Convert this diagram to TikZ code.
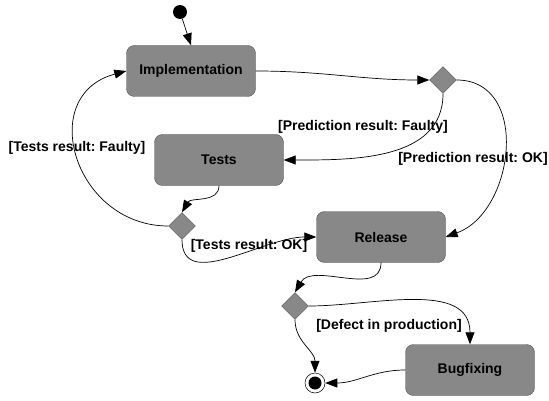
\documentclass[tikz,border=0pt]{standalone}
\usepackage{fontspec}
\setmainfont{Liberation Sans}
\usetikzlibrary{arrows.meta,shapes.geometric}
\definecolor{boxgray}{HTML}{888888}
\definecolor{edgegray}{HTML}{555555}
\frenchspacing
\tikzset{
  /tikz/.cd,
  activity/.style={draw=edgegray,fill=boxgray,rounded corners=8pt,font=\fontsize{14}{16}\selectfont\bfseries,minimum width=129pt,minimum height=51pt}
}

\begin{document}
\begin{tikzpicture}[x=1pt,y=-1pt,
                        choice/.style={diamond,draw=edgegray,fill=boxgray,inner sep=0pt,minimum size=27pt},
                        guard/.style={font=\fontsize{14}{16}\selectfont\bfseries,inner sep=0pt},
                        flow/.style={-{Triangle[length=12pt,width=9pt]},line width=0.7pt}]
      \useasboundingbox (0,0) rectangle (549,401);

      \node[circle,fill=black,inner sep=0pt,minimum size=14pt] (start) at (180,12) {};

      \node[activity] (impl) at (191,71) {Implementation};
      \node[activity] (tests) at (219,160) {Tests};
      \node[activity] (release) at (381,237) {Release};
      \node[activity] (bugfix) at (470,370) {Bugfixing};

      \node[choice] (predict) at (443,80) {};
      \node[choice] (testchk) at (182,226) {};
      \node[choice] (defect) at (295,306) {};

      \node[circle,draw,fill=white,line width=0.5pt,minimum size=20pt] (stop) at (315,383) {};
      \fill (stop.center) circle (6.5pt);

      \node[guard] (gtf) at (77,148) {[Tests result: Faulty]};
      \node[guard] (gpf) at (363,127) {[Prediction result: Faulty]};
      \node[guard] (gpo) at (473,159) {[Prediction result: OK]};
      \node[guard] (gto) at (249,246) {[Tests result: OK]};
      \node[guard] (gdp) at (389,326) {[Defect in production]};

      \draw[flow] (start) -- (impl.north);
      \draw[flow] (impl.east) to[out=0,in=180] (predict.west);
      \draw[flow] (predict.south) to[out=-90,in=0] (tests.east);
      \draw[flow] (predict.east) to[out=0,in=20,looseness=1.2] (release.east);
      \draw[flow] (tests.south) to[out=-90,in=60] (testchk.north);
      \draw[flow] (testchk.west) to[out=180,in=195,looseness=1.5] (impl.west);
      \draw[flow] (testchk.south) to[out=-90,in=180] (release.west);
      \draw[flow] (release.south) to[out=-90,in=60] (defect.north);
      \draw[flow] (defect.east) to[out=0,in=90] (bugfix.north);
      \draw[flow] (defect.south) to[out=-90,in=90] (stop.north);
      \draw[flow] (bugfix.west) to[out=180,in=0] (stop.east);
    \end{tikzpicture}
\end{document}
